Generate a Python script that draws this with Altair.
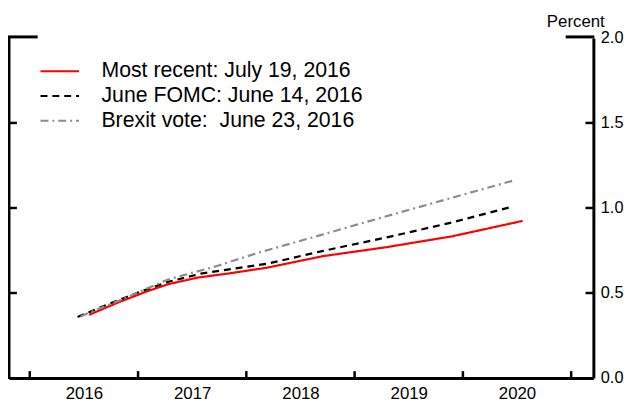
import altair as alt
import pandas as pd

# ---- data ----
series_names = [
    "Most recent: July 19, 2016",
    "June FOMC: June 14, 2016",
    "Brexit vote:\u00a0 June 23, 2016",
]
series_colors = ["#ff0000", "#000000", "#8c8c8c"]
series_dashes = [[1, 0], [7, 5], [8, 4, 2, 4]]

recent_x = [2016.548, 2016.822, 2017.096, 2017.279, 2017.553, 2017.826, 2018.192, 2018.710, 2019.288, 2019.897, 2020.551]
recent_y = [0.372, 0.446, 0.513, 0.552, 0.591, 0.614, 0.649, 0.717, 0.769, 0.833, 0.924]

fomc_x = [2016.441, 2016.731, 2017.005, 2017.279, 2017.580, 2017.890, 2018.192, 2018.710, 2019.318, 2019.900, 2020.459]
fomc_y = [0.359, 0.436, 0.504, 0.566, 0.614, 0.644, 0.672, 0.748, 0.830, 0.915, 1.008]

brexit_x = [2016.470, 2016.548, 2016.822, 2017.279, 2017.735, 2018.100, 2018.710, 2019.379, 2020.475]
brexit_y = [0.362, 0.384, 0.455, 0.580, 0.660, 0.735, 0.845, 0.967, 1.163]

year_ticks = [2016, 2017, 2018, 2019, 2020, 2021]
y_ticks = [0.0, 0.5, 1.0, 1.5, 2.0]
inner_y_ticks = [0.5, 1.0, 1.5]

rows = []
for i, (name, xs, ys) in enumerate(zip(series_names, [recent_x, fomc_x, brexit_x], [recent_y, fomc_y, brexit_y])):
    for j, (x, y) in enumerate(zip(xs, ys)):
        rows.append({"series": name, "year": x, "rate": y, "s": i, "o": j})
df = pd.DataFrame(rows)

W, H = 591, 344
FONT = "Liberation Sans"
xscale = alt.Scale(domain=[2015.808, 2021.205], nice=False, zero=False)
yscale = alt.Scale(domain=[0, 2], nice=False, zero=False)

xaxis = alt.Axis(
    values=year_ticks,
    labelExpr="datum.value < 2021 ? format(datum.value, 'd') : ''",
    labelOffset=54.75, labelFlush=False, labelOverlap=False,
    tickSize=0, domainWidth=3, domainColor="black", grid=False,
    labelFontSize=17, labelFont=FONT, labelColor="black", labelPadding=8, title=None)
yaxis = alt.Axis(
    orient="right", values=y_ticks, format=".1f",
    tickSize=0, domainWidth=3, domainColor="black", grid=False,
    labelFontSize=16.5, labelFont=FONT, labelColor="black", labelPadding=7,
    title="Percent", titleAngle=0, titleAlign="right", titleBaseline="alphabetic",
    titleX=11, titleY=-12, titleFont=FONT, titleFontSize=17, titleFontWeight="normal",
    titleColor="black")

# wide, flat legend symbol: custom path scaled by sqrt(size)/2
legend = alt.Legend(title=None, orient="none", legendX=40.6, legendY=23,
                    symbolType="M-4,0H4", symbolSize=95, symbolStrokeWidth=2,
                    labelFontSize=21.5, labelFont=FONT, labelColor="black",
                    labelOffset=31.4, rowPadding=2, labelLimit=400)

lines = alt.Chart(df).mark_line(strokeWidth=2.2).encode(
    x=alt.X("year:Q", scale=xscale, axis=xaxis),
    y=alt.Y("rate:Q", scale=yscale, axis=yaxis),
    color=alt.Color("series:N", scale=alt.Scale(domain=series_names, range=series_colors), legend=legend),
    strokeDash=alt.StrokeDash("series:N", scale=alt.Scale(domain=series_names, range=series_dashes), legend=legend),
    detail="s:N",
    order="o:Q",
)

one = pd.DataFrame({"a": [0]})
left_frame = alt.Chart(one).mark_rule(color="black", strokeWidth=3).encode(
    x=alt.value(0), y=alt.value(-2), y2=alt.value(H + 1))
top_left = alt.Chart(one).mark_rule(color="black", strokeWidth=3).encode(
    x=alt.value(-1), x2=alt.value(29), y=alt.value(-1))
top_right = alt.Chart(one).mark_rule(color="black", strokeWidth=3).encode(
    x=alt.value(563), x2=alt.value(W + 1), y=alt.value(-1))

yt = pd.DataFrame({"rate": inner_y_ticks})
left_ticks = alt.Chart(yt).mark_rule(color="black", strokeWidth=2.5).encode(
    y=alt.Y("rate:Q", scale=yscale, axis=yaxis), x=alt.value(0), x2=alt.value(8))
right_ticks = alt.Chart(yt).mark_rule(color="black", strokeWidth=2.5).encode(
    y=alt.Y("rate:Q", scale=yscale, axis=yaxis), x=alt.value(W - 8), x2=alt.value(W))

xt = pd.DataFrame({"year": year_ticks})
x_ticks = alt.Chart(xt).mark_rule(color="black", strokeWidth=2.5).encode(
    x=alt.X("year:Q", scale=xscale, axis=xaxis), y=alt.value(H - 7), y2=alt.value(H))

chart = alt.layer(
    lines, left_frame, top_left, top_right, left_ticks, right_ticks, x_ticks
).properties(
    width=W, height=H,
    autosize=alt.AutoSizeParams(type="none"),
    padding={"left": 1, "top": 28, "right": 34, "bottom": 25},
).configure(font=FONT).configure_view(stroke=None)

chart.save("out.html", embed_options={"renderer": "svg", "actions": False})
